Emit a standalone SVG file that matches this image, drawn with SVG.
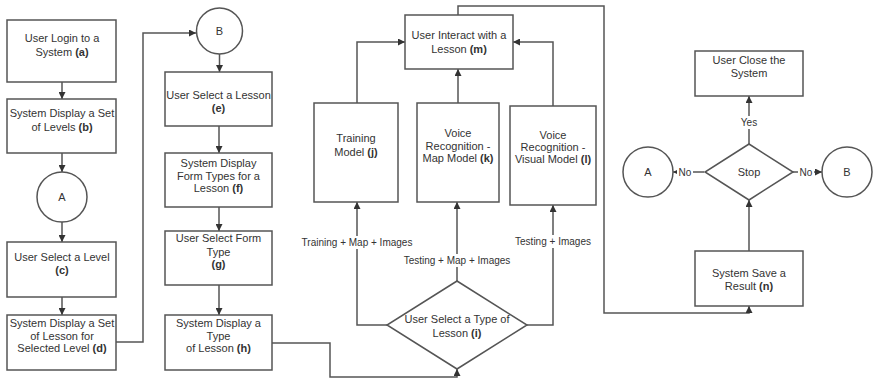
<svg xmlns="http://www.w3.org/2000/svg" width="873" height="379" viewBox="0 0 873 379">
  <style>
    .box { fill: #ffffff; stroke: #555555; stroke-width: 1.5; }
    .t { font-family: "Liberation Sans", Arial, sans-serif; font-size: 11px; fill: #333333; text-anchor: middle; }
    .lbl { font-family: "Liberation Sans", Arial, sans-serif; font-size: 10px; fill: #333333; text-anchor: middle; }
    .b { font-weight: bold; }
    .edge { fill: none; stroke: #555555; stroke-width: 1.5; }
    .bg { fill: #ffffff; }
  </style>
  <defs>
    <marker id="arrow" viewBox="0 0 10 10" refX="10" refY="5" markerWidth="7" markerHeight="7" markerUnits="userSpaceOnUse" orient="auto">
      <path d="M0,0 L10,5 L0,10 z" fill="#333333"/>
    </marker>
  </defs>
  <rect width="873" height="379" fill="#ffffff"/>

  <!-- connectors -->
  <g id="connectors">
    <path class="edge" d="M62 82 V99" marker-end="url(#arrow)"/>
    <path class="edge" d="M62 153 V172" marker-end="url(#arrow)"/>
    <path class="edge" d="M62 222 V242" marker-end="url(#arrow)"/>
    <path class="edge" d="M62 297 V315" marker-end="url(#arrow)"/>
    <path class="edge" d="M116 342 H143 V33 H196" marker-end="url(#arrow)"/>
    <path class="edge" d="M219.5 54 V72" marker-end="url(#arrow)"/>
    <path class="edge" d="M219 126 V153" marker-end="url(#arrow)"/>
    <path class="edge" d="M219 207 V231" marker-end="url(#arrow)"/>
    <path class="edge" d="M219 285 V315" marker-end="url(#arrow)"/>
    <path class="edge" d="M272 343 H330 V377 H457 V369" marker-end="url(#arrow)"/>
    <path class="edge" d="M387 325 H357 V202" marker-end="url(#arrow)"/>
    <path class="edge" d="M457 281 V202" marker-end="url(#arrow)"/>
    <path class="edge" d="M527 325 H553 V205" marker-end="url(#arrow)"/>
    <path class="edge" d="M357 103 V42 H405" marker-end="url(#arrow)"/>
    <path class="edge" d="M458 103 V69" marker-end="url(#arrow)"/>
    <path class="edge" d="M553 106 V42 H513" marker-end="url(#arrow)"/>
    <path class="edge" d="M458 15 V6 H604 V313 H749 V306" marker-end="url(#arrow)"/>
    <path class="edge" d="M749 251 V200" marker-end="url(#arrow)"/>
    <path class="edge" d="M749 144 V96" marker-end="url(#arrow)"/>
    <path class="edge" d="M704 172 H673" marker-end="url(#arrow)"/>
    <path class="edge" d="M793 172 H822" marker-end="url(#arrow)"/>

    <!-- edge labels -->
    <rect class="bg" x="303" y="236" width="108" height="13"/>
    <text class="lbl" x="357" y="246">Training + Map + Images</text>
    <rect class="bg" x="404" y="254" width="106" height="13"/>
    <text class="lbl" x="457" y="264">Testing + Map + Images</text>
    <rect class="bg" x="515" y="235" width="76" height="13"/>
    <text class="lbl" x="553" y="245">Testing + Images</text>
    <rect class="bg" x="739" y="116" width="20" height="13"/>
    <text class="lbl" x="749" y="126">Yes</text>
    <rect class="bg" x="677" y="166" width="16" height="12"/>
    <text class="lbl" x="685" y="175.5">No</text>
    <rect class="bg" x="798" y="166" width="16" height="12"/>
    <text class="lbl" x="806" y="175.5">No</text>
  </g>

  <!-- left column -->
  <g id="node-a">
    <rect class="box" x="7" y="20" width="109" height="62"/>
    <text class="t" x="62" y="42">User Login to a</text>
    <text class="t" x="62" y="56">System  <tspan class="b">(a)</tspan></text>
  </g>
  <g id="node-b">
    <rect class="box" x="7" y="99" width="109" height="54"/>
    <text class="t" x="62" y="117">System Display a Set</text>
    <text class="t" x="62" y="131">of Levels <tspan class="b">(b)</tspan></text>
  </g>
  <g id="conn-A1">
    <circle class="box" cx="62" cy="197" r="25"/>
    <text class="t" x="62" y="201">A</text>
  </g>
  <g id="node-c">
    <rect class="box" x="7" y="242" width="109" height="55"/>
    <text class="t" x="62" y="261">User Select a Level</text>
    <text class="t" x="62" y="274"><tspan class="b">(c)</tspan></text>
  </g>
  <g id="node-d">
    <rect class="box" x="7" y="315" width="109" height="55"/>
    <text class="t" x="62" y="327">System Display a Set</text>
    <text class="t" x="62" y="340">of Lesson for</text>
    <text class="t" x="62" y="352">Selected Level <tspan class="b">(d)</tspan></text>
  </g>

  <!-- second column -->
  <g id="conn-B1">
    <circle class="box" cx="219.5" cy="31" r="23"/>
    <text class="t" x="219.5" y="35">B</text>
  </g>
  <g id="node-e">
    <rect class="box" x="165" y="72" width="107" height="54"/>
    <text class="t" x="218.5" y="99">User Select a Lesson</text>
    <text class="t" x="218.5" y="112"><tspan class="b">(e)</tspan></text>
  </g>
  <g id="node-f">
    <rect class="box" x="165" y="153" width="107" height="54"/>
    <text class="t" x="218.5" y="167">System Display</text>
    <text class="t" x="218.5" y="180">Form Types for a</text>
    <text class="t" x="218.5" y="192">Lesson <tspan class="b">(f)</tspan></text>
  </g>
  <g id="node-g">
    <rect class="box" x="165" y="231" width="107" height="54"/>
    <text class="t" x="218.5" y="242">User Select Form</text>
    <text class="t" x="218.5" y="256">Type</text>
    <text class="t" x="218.5" y="268"><tspan class="b">(g)</tspan></text>
  </g>
  <g id="node-h">
    <rect class="box" x="165" y="315" width="107" height="55"/>
    <text class="t" x="218.5" y="327">System Display a</text>
    <text class="t" x="218.5" y="340">Type</text>
    <text class="t" x="218.5" y="352">of Lesson  <tspan class="b">(h)</tspan></text>
  </g>

  <!-- lesson type decision and models -->
  <g id="node-i">
    <polygon class="box" points="457,281 527,325 457,369 387,325"/>
    <text class="t" x="457" y="323">User Select a Type of</text>
    <text class="t" x="457" y="337">Lesson <tspan class="b">(i)</tspan></text>
  </g>
  <g id="node-j">
    <rect class="box" x="314" y="103" width="84" height="99"/>
    <text class="t" x="356" y="142">Training</text>
    <text class="t" x="356" y="156">Model <tspan class="b">(j)</tspan></text>
  </g>
  <g id="node-k">
    <rect class="box" x="417" y="103" width="82" height="99"/>
    <text class="t" x="458" y="137">Voice</text>
    <text class="t" x="458" y="150">Recognition -</text>
    <text class="t" x="458" y="162">Map Model <tspan class="b">(k)</tspan></text>
  </g>
  <g id="node-l">
    <rect class="box" x="510" y="106" width="86" height="99"/>
    <text class="t" x="553" y="139">Voice</text>
    <text class="t" x="553" y="151">Recognition -</text>
    <text class="t" x="553" y="163">Visual Model <tspan class="b">(l)</tspan></text>
  </g>
  <g id="node-m">
    <rect class="box" x="405" y="15" width="108" height="54"/>
    <text class="t" x="459" y="39">User Interact with a</text>
    <text class="t" x="459" y="53">Lesson <tspan class="b">(m)</tspan></text>
  </g>

  <!-- right section -->
  <g id="node-close">
    <rect class="box" x="695" y="51" width="108" height="45"/>
    <text class="t" x="749" y="64">User Close the</text>
    <text class="t" x="749" y="77">System</text>
  </g>
  <g id="node-stop">
    <polygon class="box" points="749,144 793,172 749,200 705,172"/>
    <text class="t" x="749" y="176">Stop</text>
  </g>
  <g id="conn-A2">
    <circle class="box" cx="648" cy="172" r="25"/>
    <text class="t" x="648" y="176">A</text>
  </g>
  <g id="conn-B2">
    <circle class="box" cx="847" cy="172" r="25"/>
    <text class="t" x="847" y="176">B</text>
  </g>
  <g id="node-n">
    <rect class="box" x="695" y="251" width="108" height="55"/>
    <text class="t" x="749" y="277">System Save a</text>
    <text class="t" x="749" y="290">Result <tspan class="b">(n)</tspan></text>
  </g>
</svg>
